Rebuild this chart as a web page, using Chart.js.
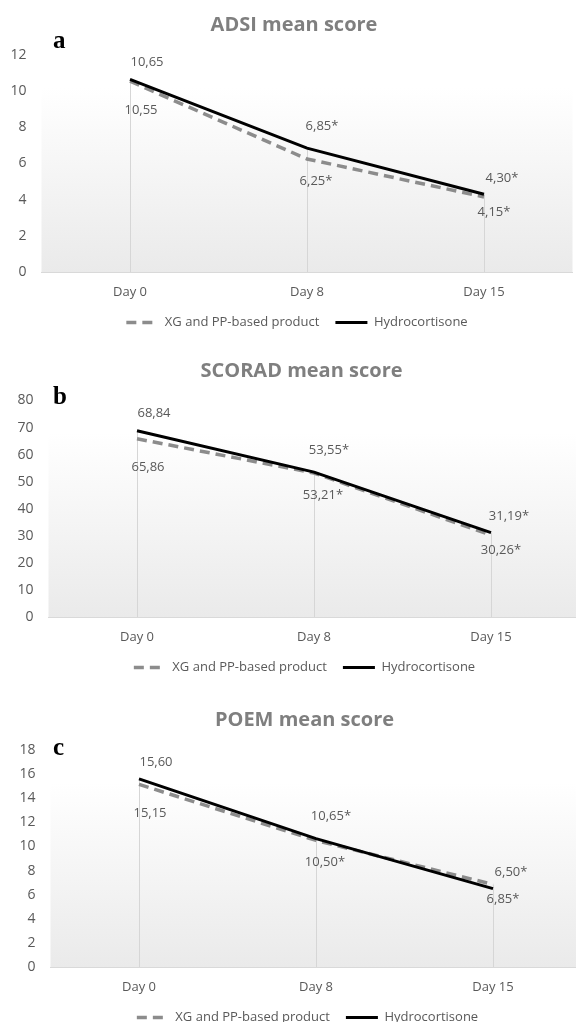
<!DOCTYPE html>
<html>
<head>
<meta charset="utf-8">
<script src="https://cdn.jsdelivr.net/npm/chart.js@4"></script>
<style>
  html, body { margin: 0; padding: 0; background: #fff; width: 576px; height: 1022px; overflow: hidden; position: relative; }
  .panel { position: absolute; left: 0; }
</style>
</head>
<body>
<div class="panel" style="top:0;width:594px;height:339px"><canvas id="chartA"></canvas></div>
<div class="panel" style="top:340px;width:609px;height:344px"><canvas id="chartB"></canvas></div>
<div class="panel" style="top:690px;width:615px;height:344px"><canvas id="chartC"></canvas></div>
<script>
// valores
const days = ['Day 0', 'Day 8', 'Day 15'];
const seriesNames = ['XG and PP-based product', 'Hydrocortisone'];
const starred = [false, true, true];

const adsiXg = [10.55, 6.25, 4.15];
const adsiHydro = [10.65, 6.85, 4.30];
const adsiTicks = [0, 12, 2];

const scoradXg = [65.86, 53.21, 30.26];
const scoradHydro = [68.84, 53.55, 31.19];
const scoradTicks = [0, 80, 10];

const poemXg = [15.15, 10.50, 6.85];
const poemHydro = [15.60, 10.65, 6.50];
const poemTicks = [0, 18, 2];

// desplazamiento de las etiquetas respecto al punto, por dia
const hydroShift = { dx: [17, 15, 18], dy: [-17, -22, -16] };
const xgShift = { dx: [11, 9, 10], dy: [29, 22, 15] };

Chart.defaults.font.family = "'Open Sans', sans-serif";
Chart.defaults.color = '#595959';

const fmt = (v, i) => v.toFixed(2).replace('.', ',') + (starred[i] ? '*' : '');

const decor = {
  id: 'decor',
  beforeDraw(chart, args, opts) {
    const { ctx, chartArea: a } = chart;
    const g = ctx.createLinearGradient(0, a.top, 0, a.bottom);
    g.addColorStop(0, '#ffffff');
    g.addColorStop(0.15, '#ffffff');
    g.addColorStop(1, '#eaeaea');
    ctx.save();
    ctx.fillStyle = g;
    ctx.fillRect(a.left, a.top, a.right - a.left, a.bottom - a.top);
    // titulo
    ctx.fillStyle = '#7f7f7f';
    ctx.font = "bold 20px 'Open Sans', sans-serif";
    ctx.textAlign = 'center';
    ctx.textBaseline = 'middle';
    ctx.fillText(opts.title, chart.width / 2 - 3, a.top - 29.5);
    // letra del panel
    ctx.fillStyle = '#000';
    ctx.font = "bold 25px 'Liberation Serif', serif";
    ctx.textAlign = 'left';
    ctx.textBaseline = 'alphabetic';
    ctx.fillText(opts.letter, 53, a.top + opts.letterDy);
    ctx.restore();
  },
  beforeDatasetsDraw(chart) {
    const { ctx, chartArea: a } = chart;
    const m0 = chart.getDatasetMeta(0), m1 = chart.getDatasetMeta(1);
    ctx.save();
    ctx.strokeStyle = '#d6d6d6';
    ctx.lineWidth = 1;
    m0.data.forEach((p, i) => {
      const top = Math.min(p.y, m1.data[i].y);
      const x = Math.round(p.x) + 0.5;
      ctx.beginPath();
      ctx.moveTo(x, top);
      ctx.lineTo(x, a.bottom);
      ctx.stroke();
    });
    ctx.restore();
  },
  afterDatasetsDraw(chart) {
    const { ctx } = chart;
    ctx.save();
    ctx.fillStyle = '#595959';
    ctx.font = "13px 'Open Sans', sans-serif";
    ctx.textAlign = 'center';
    ctx.textBaseline = 'middle';
    [xgShift, hydroShift].forEach((sh, d) => {
      const meta = chart.getDatasetMeta(d);
      const vals = chart.data.datasets[d].data;
      meta.data.forEach((p, i) => {
        ctx.fillText(fmt(vals[i], i), p.x + sh.dx[i], p.y + sh.dy[i]);
      });
    });
    ctx.restore();
  }
};

// muestras de linea de la leyenda con el mismo trazo que la serie
function legendItems(chart) {
  const items = Chart.defaults.plugins.legend.labels.generateLabels(chart);
  return items.map(it => {
    const ds = chart.data.datasets[it.datasetIndex];
    it.lineDash = ds.borderDash || [];
    it.lineWidth = ds.borderWidth;
    it.strokeStyle = ds.borderColor;
    it.fillStyle = ds.borderColor;
    it.pointStyle = 'line';
    return it;
  });
}

function makeChart(id, title, letter, xg, hydro, ticks, lay) {
  new Chart(document.getElementById(id), {
    type: 'line',
    data: {
      labels: days,
      datasets: [
        {
          label: seriesNames[0],
          data: xg,
          borderColor: '#8c8c8c',
          backgroundColor: '#8c8c8c',
          borderWidth: 3.5,
          borderDash: [10, 6],
          pointRadius: 0,
          pointHoverRadius: 0,
          order: 1
        },
        {
          label: seriesNames[1],
          data: hydro,
          borderColor: '#000000',
          backgroundColor: '#000000',
          borderWidth: 3,
          pointRadius: 0,
          pointHoverRadius: 0,
          order: 0
        }
      ]
    },
    options: {
      responsive: true,
      maintainAspectRatio: false,
      animation: false,
      events: [],
      layout: { padding: { top: lay.padTop, right: 0, left: 0, bottom: 0 } },
      scales: {
        x: {
          offset: true,
          grid: { display: false, drawTicks: false },
          border: { display: true, color: '#d9d9d9', width: 1 },
          ticks: { padding: 12, color: '#595959', font: { size: 13 } },
          afterFit: s => { s.height = 28; }
        },
        y: {
          min: ticks[0],
          max: ticks[1],
          grid: { display: false, drawTicks: false },
          border: { display: false },
          ticks: { stepSize: ticks[2], padding: 15, color: '#595959', font: { size: 14 } },
          afterFit: s => { s.width = lay.yWidth; }
        },
        spacer: {
          type: 'linear',
          position: 'right',
          grid: { display: false, drawTicks: false },
          border: { display: false },
          ticks: { display: false },
          afterFit: s => { s.width = lay.spacer; }
        }
      },
      plugins: {
        legend: {
          position: 'bottom',
          labels: {
            usePointStyle: true,
            pointStyleWidth: 32,
            boxHeight: 12,
            padding: 16,
            color: '#595959',
            font: { size: 13 },
            generateLabels: legendItems,
            sort: (a, b) => a.datasetIndex - b.datasetIndex
          }
        },
        tooltip: { enabled: false },
        decor: { title: title, letter: letter, letterDy: lay.letterDy }
      }
    },
    plugins: [decor]
  });
}

makeChart('chartA', 'ADSI mean score', 'a', adsiXg, adsiHydro, adsiTicks,
  { padTop: 55, yWidth: 41.5, spacer: 21.5, letterDy: -7 });
makeChart('chartB', 'SCORAD mean score', 'b', scoradXg, scoradHydro, scoradTicks,
  { padTop: 60.5, yWidth: 48.5, spacer: 29.5, letterDy: 3 });
makeChart('chartC', 'POEM mean score', 'c', poemXg, poemHydro, poemTicks,
  { padTop: 60, yWidth: 50.5, spacer: 33.5, letterDy: 5 });
</script>
</body>
</html>
